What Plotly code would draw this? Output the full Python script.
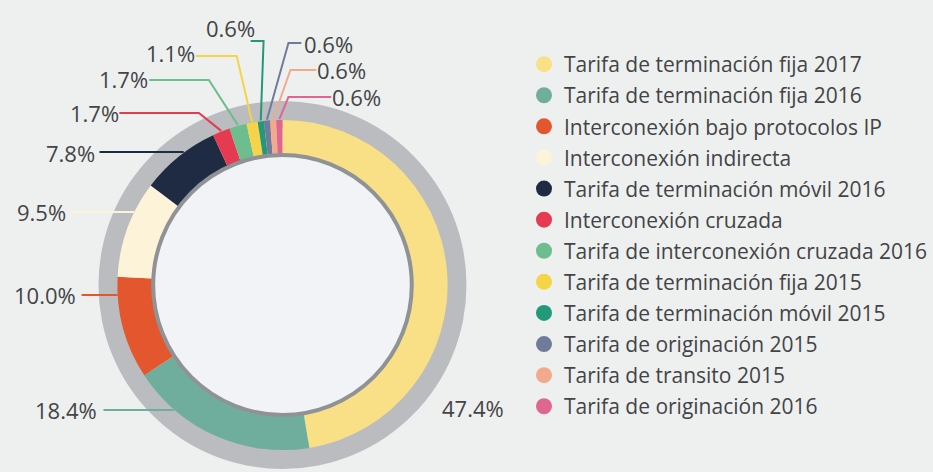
import math
import plotly.graph_objects as go

# ============================ DATA ===============================
labels = ['Tarifa de terminación fija 2017', 'Tarifa de terminación fija 2016',
          'Interconexión bajo protocolos IP', 'Interconexión indirecta',
          'Tarifa de terminación móvil 2016', 'Interconexión cruzada',
          'Tarifa de interconexión cruzada 2016', 'Tarifa de terminación fija 2015',
          'Tarifa de terminación móvil 2015', 'Tarifa de originación 2015',
          'Tarifa de transito 2015', 'Tarifa de originación 2016']
shares = [47.4, 18.4, 10.0, 9.5, 7.8, 1.7, 1.7, 1.1, 0.6, 0.6, 0.6, 0.6]
colors = ['#f9df86', '#6fae9d', '#e4572e', '#fcf3d8', '#1e2b43', '#e53a4f',
          '#6dbd8f', '#f5d547', '#23997a', '#707b9b', '#f3a98b', '#de6690']

# label placement (pixels): text centre, line start, elbow x (None = straight horizontal)
label_xy = [(476, 408), (66, 410), (45, 295), (42, 212), (71, 153), (95, 113),
            (124, 79), (171, 53), (232, 28), (330, 44), (343, 70), (358, 97)]
line_start = [None, (104, 410), (82, 295), (72, 212), (100, 152), (120, 113),
              (150, 80), (197, 56), (252, 41), (303, 43), (318, 70), (333, 97)]
elbow_x = [None, None, None, None, None, 200, 210, 238, 265, 290, 292, 290]

# ============================ GEOMETRY ===============================
W, H = 933, 472
CX, CY = 284, 285
R_GREY, R_OUT, R_IN = 185, 166, 131


def px(x):
    return x / W


def py(y):
    return 1 - y / H


def dom(r):
    return dict(x=[px(CX - r), px(CX + r)], y=[py(CY + r), py(CY - r)])


fig = go.Figure()

# grey outer ring
fig.add_trace(go.Pie(values=[1], marker=dict(colors=['#babcbf'], line=dict(width=0)),
                     hole=0.85, domain=dom(R_GREY), textinfo='none', hoverinfo='skip',
                     showlegend=False, sort=False))

# main donut
fig.add_trace(go.Pie(labels=labels, values=shares, marker=dict(colors=colors, line=dict(width=0)),
                     hole=R_IN / R_OUT, domain=dom(R_OUT), textinfo='none', sort=False,
                     direction='clockwise', rotation=0, showlegend=False))

# legend entries (circle markers, one group each for spacing)
for lab, col in zip(labels, colors):
    fig.add_trace(go.Scatter(x=[None], y=[None], mode='markers', name=lab, legendgroup=lab,
                             marker=dict(color=col, size=16, symbol='circle')))

# ---- leader lines + labels ----
shapes = [dict(type='circle', xref='paper', yref='paper',
               x0=px(CX - 130), x1=px(CX + 130), y0=py(CY + 130), y1=py(CY - 130),
               fillcolor='#f1f3f6', line=dict(color='#909396', width=4), layer='above')]
annotations = []
cum = 0
for i, v in enumerate(shares):
    mid = (cum + v / 2) / 100 * 2 * math.pi
    cum += v
    annotations.append(dict(x=px(label_xy[i][0]), y=py(label_xy[i][1]), xref='paper', yref='paper',
                            xanchor='center', yanchor='middle',
                            text=f'{v:.1f}%', showarrow=False,
                            font=dict(size=22, color='#434446', family='Open Sans')))
    if line_start[i] is None:
        continue
    sx, sy = line_start[i]
    if elbow_x[i] is None:
        ex = CX - math.sqrt(R_OUT ** 2 - (sy - CY) ** 2)
        path = f'M{px(sx)},{py(sy)} L{px(ex)},{py(sy)}'
    else:
        ax = CX + R_OUT * math.sin(mid)
        ay = CY - R_OUT * math.cos(mid)
        path = f'M{px(sx)},{py(sy)} L{px(elbow_x[i])},{py(sy)} L{px(ax)},{py(ay)}'
    shapes.append(dict(type='path', xref='paper', yref='paper', path=path,
                       line=dict(color=colors[i], width=2), layer='above'))

fig.update_layout(
    width=W, height=H,
    margin=dict(l=0, r=0, t=0, b=0),
    paper_bgcolor='#eef0f0',
    plot_bgcolor='rgba(0,0,0,0)',
    xaxis=dict(visible=False),
    yaxis=dict(visible=False),
    shapes=shapes,
    annotations=annotations,
    legend=dict(x=px(527), y=py(44), xanchor='left', yanchor='top',
                traceorder='grouped', tracegroupgap=0.8,
                bgcolor='rgba(0,0,0,0)',
                font=dict(size=21, color='#434446', family='Open Sans')),
)

fig.write_html("out.html", config={'displayModeBar': False},
               post_script="document.body.style.margin='0';")
